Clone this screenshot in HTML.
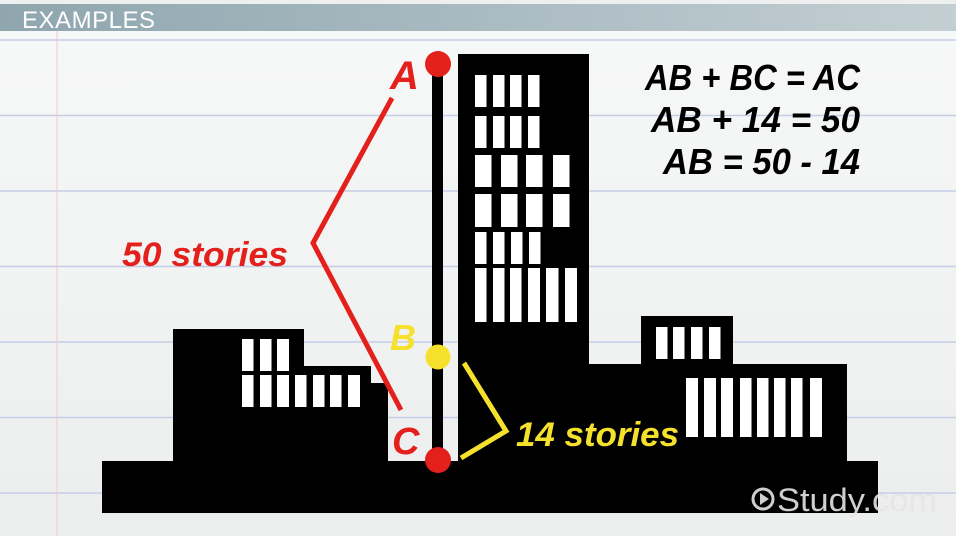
<!DOCTYPE html>
<html><head><meta charset="utf-8"><style>
html,body{margin:0;padding:0;background:#f4f5f5;}
svg{display:block;}
</style></head><body>
<svg width="956" height="536" viewBox="0 0 956 536" xmlns="http://www.w3.org/2000/svg" font-family="Liberation Sans, sans-serif">
<defs>
<linearGradient id="hg" x1="0" x2="1" y1="0" y2="0">
<stop offset="0" stop-color="#8fa6af"/><stop offset="1" stop-color="#c3cfd3"/>
</linearGradient>
<linearGradient id="bg" x1="0" x2="0" y1="0" y2="1">
<stop offset="0" stop-color="#f7f8f8"/><stop offset="1" stop-color="#eceeee"/>
</linearGradient>
</defs>
<rect width="956" height="536" fill="url(#bg)"/>
<rect x="0" y="0" width="956" height="4" fill="#eef0f0"/>
<rect x="0" y="4" width="956" height="27" fill="url(#hg)"/>
<text x="22" y="28" font-size="24" fill="#ffffff" textLength="133">EXAMPLES</text>
<g stroke="#c5cde6" stroke-width="1.5">
<line x1="0" y1="40" x2="956" y2="40"/>
<line x1="0" y1="115.5" x2="956" y2="115.5"/>
<line x1="0" y1="191" x2="956" y2="191"/>
<line x1="0" y1="266.5" x2="956" y2="266.5"/>
<line x1="0" y1="342" x2="956" y2="342"/>
<line x1="0" y1="417.5" x2="956" y2="417.5"/>
<line x1="0" y1="493" x2="956" y2="493"/>
</g>
<line x1="57" y1="31" x2="57" y2="536" stroke="#f1c9cc" stroke-width="1"/>

<!-- buildings -->
<g fill="#000">
<rect x="102" y="461" width="776" height="52"/>
<rect x="173" y="329" width="131" height="140"/>
<rect x="303" y="366" width="68" height="100"/>
<rect x="370" y="383" width="18" height="80"/>
<rect x="458" y="54" width="131" height="410"/>
<rect x="588" y="384" width="55" height="80"/>
<rect x="641" y="316" width="92" height="60"/>
<rect x="588" y="364" width="259" height="100"/>
<rect x="846" y="461" width="32" height="52"/>
<rect x="432" y="64" width="11" height="398"/>
</g>
<g fill="#fff">
<!-- tall building windows -->
<rect x="475" y="75" width="11.5" height="32"/><rect x="493" y="75" width="11.5" height="32"/><rect x="510" y="75" width="11.5" height="32"/><rect x="528" y="75" width="11.5" height="32"/>
<rect x="475" y="116" width="11.5" height="32"/><rect x="493" y="116" width="11.5" height="32"/><rect x="510" y="116" width="11.5" height="32"/><rect x="528" y="116" width="11.5" height="32"/>
<rect x="475" y="155" width="16.5" height="32"/><rect x="501" y="155" width="16.5" height="32"/><rect x="526" y="155" width="16.5" height="32"/><rect x="553" y="155" width="16.5" height="32"/>
<rect x="475" y="194" width="16.5" height="33"/><rect x="501" y="194" width="16.5" height="33"/><rect x="526" y="194" width="16.5" height="33"/><rect x="553" y="194" width="16.5" height="33"/>
<rect x="475" y="232" width="11.5" height="32"/><rect x="493" y="232" width="11.5" height="32"/><rect x="511" y="232" width="11.5" height="32"/><rect x="529" y="232" width="11.5" height="32"/>
<rect x="475" y="268" width="11.5" height="54"/><rect x="493" y="268" width="11.5" height="54"/><rect x="510" y="268" width="11.5" height="54"/><rect x="528" y="268" width="12" height="54"/><rect x="546" y="268" width="12.5" height="54"/><rect x="565" y="268" width="12" height="54"/>
<!-- left building windows -->
<rect x="242" y="339" width="11.5" height="32"/><rect x="260" y="339" width="11.5" height="32"/><rect x="277" y="339" width="12" height="32"/>
<rect x="242" y="375" width="11.5" height="32"/><rect x="260" y="375" width="11.5" height="32"/><rect x="277" y="375" width="12" height="32"/><rect x="295" y="375" width="11.5" height="32"/><rect x="313" y="375" width="11.5" height="32"/><rect x="330" y="375" width="11.5" height="32"/><rect x="348" y="375" width="12" height="32"/>
<!-- right building windows -->
<rect x="656" y="327" width="11.5" height="32"/><rect x="673" y="327" width="11.5" height="32"/><rect x="691" y="327" width="11.5" height="32"/><rect x="709" y="327" width="11.5" height="32"/>
<rect x="686" y="378" width="12" height="59"/><rect x="704" y="378" width="12" height="59"/><rect x="721" y="378" width="12" height="59"/><rect x="740" y="378" width="11.5" height="59"/><rect x="757" y="378" width="11.5" height="59"/><rect x="774" y="378" width="11.5" height="59"/><rect x="791" y="378" width="11.5" height="59"/><rect x="810" y="378" width="12" height="59"/>
</g>

<!-- red bracket -->
<polyline points="392,98 313,243 401,410" fill="none" stroke="#e3201b" stroke-width="5"/>
<!-- yellow bracket -->
<polyline points="464,363 506,431 461,458" fill="none" stroke="#f5e12c" stroke-width="5"/>

<circle cx="438" cy="64" r="13" fill="#e3201b"/>
<circle cx="438" cy="357" r="12.5" fill="#f5e12c"/>
<circle cx="438" cy="460" r="13" fill="#e3201b"/>

<g font-weight="bold" font-style="italic">
<text x="390" y="89" font-size="40" fill="#e3201b">A</text>
<text x="390" y="350" font-size="36" fill="#f5e12c">B</text>
<text x="392" y="454" font-size="38" fill="#e3201b">C</text>
<text x="122" y="266" font-size="34" fill="#e3201b" textLength="166" lengthAdjust="spacingAndGlyphs">50 stories</text>
<text x="516" y="446" font-size="34" fill="#f5e12c" textLength="163" lengthAdjust="spacingAndGlyphs">14 stories</text>
<g font-size="36" fill="#000" text-anchor="end">
<text x="860" y="90" textLength="215" lengthAdjust="spacingAndGlyphs">AB + BC = AC</text>
<text x="860" y="132" textLength="209" lengthAdjust="spacingAndGlyphs">AB + 14 = 50</text>
<text x="860" y="174" textLength="197" lengthAdjust="spacingAndGlyphs">AB = 50 - 14</text>
</g>
</g>

<!-- Study.com logo -->
<g opacity="0.9">
<circle cx="763" cy="499" r="10" fill="none" stroke="#e6e6e6" stroke-width="3"/>
<polygon points="760,493 760,505 769,499" fill="#e6e6e6"/>
<text x="777" y="511" font-size="32" fill="#e6e6e6" textLength="160" lengthAdjust="spacingAndGlyphs">Study.com</text>
</g>
</svg>
</body></html>
